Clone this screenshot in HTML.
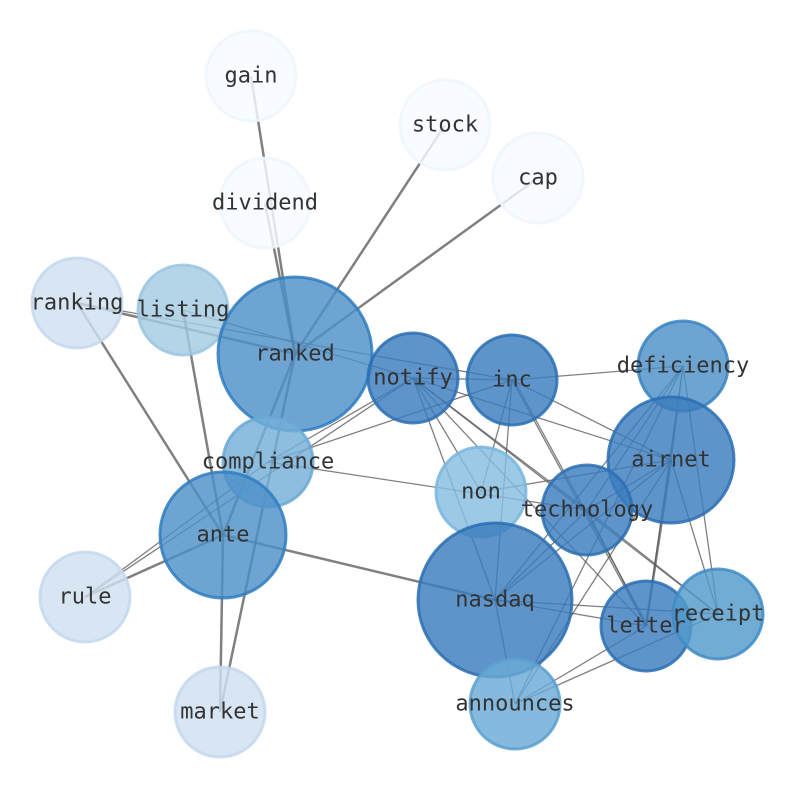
<!DOCTYPE html>
<html><head><meta charset="utf-8"><style>body{margin:0;background:#fff}svg{display:block}</style></head><body>
<svg width="794" height="790" xmlns="http://www.w3.org/2000/svg">
<g stroke="#555" stroke-opacity="0.75" fill="none">
<g stroke-width="2.5">
<line x1="251" y1="76" x2="295" y2="354"/>
<line x1="265" y1="203" x2="295" y2="354"/>
<line x1="445" y1="125" x2="295" y2="354"/>
<line x1="538" y1="178" x2="295" y2="354"/>
<line x1="295" y1="354" x2="220" y2="712"/>
<line x1="77" y1="303" x2="223" y2="535"/>
<line x1="183" y1="310" x2="223" y2="535"/>
<line x1="223" y1="535" x2="495" y2="600"/>
<line x1="223" y1="535" x2="85" y2="597"/>
<line x1="223" y1="535" x2="220" y2="712"/>
<line x1="295" y1="354" x2="223" y2="535"/>
<line x1="77" y1="303" x2="295" y2="354"/>
<line x1="671" y1="460" x2="646" y2="626"/>
</g>
<g stroke-width="1.3">
<line x1="77" y1="303" x2="512" y2="380"/>
<line x1="183" y1="310" x2="413" y2="378"/>
<line x1="85" y1="597" x2="413" y2="378"/>
<line x1="85" y1="597" x2="268" y2="462"/>
<line x1="268" y1="462" x2="413" y2="378"/>
<line x1="268" y1="462" x2="512" y2="380"/>
<line x1="268" y1="462" x2="587" y2="510"/>
<line x1="413" y1="378" x2="512" y2="380"/>
<line x1="413" y1="378" x2="495" y2="600"/>
<line x1="413" y1="378" x2="646" y2="626"/>
<line x1="413" y1="378" x2="587" y2="510"/>
<line x1="413" y1="378" x2="671" y2="460"/>
<line x1="413" y1="378" x2="718" y2="614"/>
<line x1="413" y1="378" x2="481" y2="492"/>
<line x1="512" y1="380" x2="683" y2="366"/>
<line x1="512" y1="380" x2="671" y2="460"/>
<line x1="512" y1="380" x2="481" y2="492"/>
<line x1="512" y1="380" x2="495" y2="600"/>
<line x1="512" y1="380" x2="646" y2="626"/>
<line x1="514" y1="380" x2="648" y2="626"/>
<line x1="683" y1="366" x2="495" y2="600"/>
<line x1="683" y1="366" x2="587" y2="510"/>
<line x1="683" y1="366" x2="671" y2="460"/>
<line x1="683" y1="366" x2="646" y2="626"/>
<line x1="683" y1="366" x2="718" y2="614"/>
<line x1="683" y1="366" x2="515" y2="704"/>
<line x1="671" y1="460" x2="481" y2="492"/>
<line x1="671" y1="460" x2="495" y2="600"/>
<line x1="671" y1="460" x2="515" y2="704"/>
<line x1="671" y1="460" x2="718" y2="614"/>
<line x1="671" y1="460" x2="587" y2="510"/>
<line x1="495" y1="600" x2="646" y2="626"/>
<line x1="495" y1="600" x2="718" y2="614"/>
<line x1="495" y1="600" x2="515" y2="704"/>
<line x1="495" y1="600" x2="587" y2="510"/>
<line x1="515" y1="704" x2="646" y2="626"/>
<line x1="515" y1="704" x2="718" y2="614"/>
<line x1="587" y1="510" x2="718" y2="614"/>
<line x1="587" y1="510" x2="646" y2="626"/>
</g>
</g>
<g stroke-width="3" fill-opacity="0.82" stroke-opacity="0.85">
<circle cx="251" cy="76" r="45" fill="#f6faff" stroke="#f0f6fd"/>
<circle cx="445" cy="125" r="45" fill="#f6faff" stroke="#f0f6fd"/>
<circle cx="538" cy="178" r="45" fill="#f6faff" stroke="#f0f6fd"/>
<circle cx="265" cy="203" r="45" fill="#f6faff" stroke="#f0f6fd"/>
<circle cx="77" cy="303" r="45" fill="#cfdff0" stroke="#c4d8ee"/>
<circle cx="183" cy="310" r="45" fill="#a3cbe3" stroke="#9bc6e0"/>
<circle cx="85" cy="597" r="45" fill="#cfdff0" stroke="#c4d8ee"/>
<circle cx="220" cy="712" r="45" fill="#cfdff0" stroke="#c4d8ee"/>
<circle cx="295" cy="354" r="77" fill="#4d90c8" stroke="#2f7dbf"/>
<circle cx="268" cy="462" r="45" fill="#74b0d9" stroke="#6aa9d5"/>
<circle cx="223" cy="535" r="63" fill="#4d90c8" stroke="#2f7dbf"/>
<circle cx="413" cy="378" r="45" fill="#3a7cbd" stroke="#2a6fb3"/>
<circle cx="512" cy="380" r="45" fill="#3a7cbd" stroke="#2a6fb3"/>
<circle cx="683" cy="366" r="45" fill="#4d90c8" stroke="#3a82c1"/>
<circle cx="671" cy="460" r="63" fill="#3a7cbd" stroke="#2a6fb3"/>
<circle cx="481" cy="492" r="45" fill="#86bde0" stroke="#7ab6dc"/>
<circle cx="587" cy="510" r="45" fill="#3a7cbd" stroke="#2a6fb3"/>
<circle cx="495" cy="600" r="77" fill="#3a7cbd" stroke="#2a6fb3"/>
<circle cx="646" cy="626" r="45" fill="#3a7cbd" stroke="#2a6fb3"/>
<circle cx="718" cy="614" r="45" fill="#529acc" stroke="#3f8cc6"/>
<circle cx="515" cy="704" r="45" fill="#6aaad5" stroke="#5aa0d0"/>
</g>
<g font-family="'DejaVu Sans Mono','Liberation Mono',monospace" font-size="22" fill="#333" text-anchor="middle" dominant-baseline="central">
<text x="251" y="76">gain</text><text x="445" y="125">stock</text><text x="538" y="178">cap</text>
<text x="265" y="203">dividend</text><text x="77" y="303">ranking</text><text x="183" y="310">listing</text>
<text x="295" y="354">ranked</text><text x="413" y="378">notify</text><text x="512" y="380">inc</text>
<text x="683" y="366">deficiency</text><text x="671" y="460">airnet</text><text x="268" y="462">compliance</text>
<text x="481" y="492">non</text><text x="587" y="510">technology</text><text x="223" y="535">ante</text>
<text x="85" y="597">rule</text><text x="495" y="600">nasdaq</text><text x="646" y="626">letter</text>
<text x="718" y="614">receipt</text><text x="515" y="704">announces</text><text x="220" y="712">market</text>
</g>
</svg>
</body></html>
